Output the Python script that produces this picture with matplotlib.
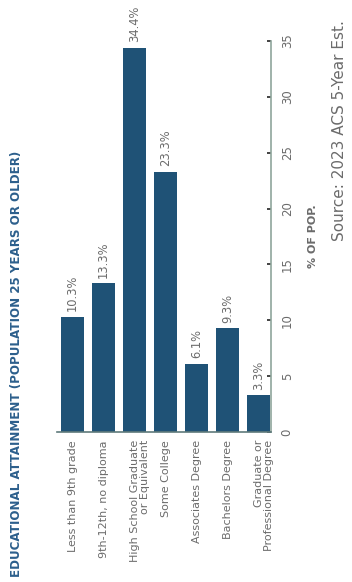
import matplotlib
matplotlib.use("Agg")
import matplotlib.pyplot as plt
from matplotlib.transforms import offset_copy

plt.rcParams["font.family"] = ["DejaVu Sans"]

categories = [
    "Less than 9th grade",
    "9th-12th, no diploma",
    "High School Graduate\nor Equivalent",
    "Some College",
    "Associates Degree",
    "Bachelors Degree",
    "Graduate or\nProfessional Degree",
]
values = [10.3, 13.3, 34.4, 23.3, 6.1, 9.3, 3.3]
value_ticks = [0, 5, 10, 15, 20, 25, 30, 35]

title = "EDUCATIONAL ATTAINMENT (POPULATION 25 YEARS OR OLDER)"
axis_label = "% OF POP."
source = "Source: 2023 ACS 5-Year Est."

BAR = "#1f5276"
TITLE = "#2c5f8c"
GREY = "#6b6b6b"
SPINE = "#8fa59c"

W, H = 352, 582
fig = plt.figure(figsize=(W / 100, H / 100), dpi=100)
ax = fig.add_axes([57 / W, (H - 432) / H, 214 / W, 391 / H])

x = list(range(len(categories)))
bars = ax.bar(x, values, width=0.74, color=BAR, zorder=2)
ax.bar_label(bars, labels=[f"{v:.1f}%" for v in values], rotation=90,
             padding=4, fontsize=8.3, color=GREY)

ax.set_xlim(-0.5, 6.4)
ax.set_ylim(0, 35)

for s in ("left", "top"):
    ax.spines[s].set_visible(False)
ax.spines["bottom"].set_color("#5f7a7c")
ax.spines["bottom"].set_linewidth(1.2)
ax.spines["right"].set_color(SPINE)
ax.spines["right"].set_linewidth(1.2)

ax.set_xticks([])
ax.yaxis.tick_right()
ax.set_yticks(value_ticks)
ax.set_yticklabels([str(t) for t in value_ticks], rotation=90,
                   va="center", fontsize=8.5, color=GREY)
ax.tick_params(axis="y", direction="in", length=3, width=1.2,
               color="#222222", pad=7)

ax.yaxis.set_label_position("right")
ax.set_ylabel(axis_label, fontsize=8, color=GREY, fontweight="bold")
ax.yaxis.label.set_va("center")
ax.yaxis.set_label_coords((313 - 57) / 214, 0.5)

# category names run bottom-to-top under the baseline
base = ax.get_xaxis_transform()
for i, name in enumerate(categories):
    tr = offset_copy(base, fig=fig, x=-5, y=-8, units="dots")
    ax.text(i, 0, name, transform=tr, rotation=90, ha="left", va="top",
            multialignment="right", linespacing=1.0, fontsize=8,
            color=GREY)

fig.text(17 / W, 1 - 577 / H, title, rotation=90, ha="center",
         va="bottom", fontsize=8.6, fontweight="bold", color=TITLE)
fig.text(340 / W, 1 - 20 / H, source, rotation=90, ha="center", va="top",
         fontsize=11, color=GREY)

fig.savefig("out.png", dpi=100)
